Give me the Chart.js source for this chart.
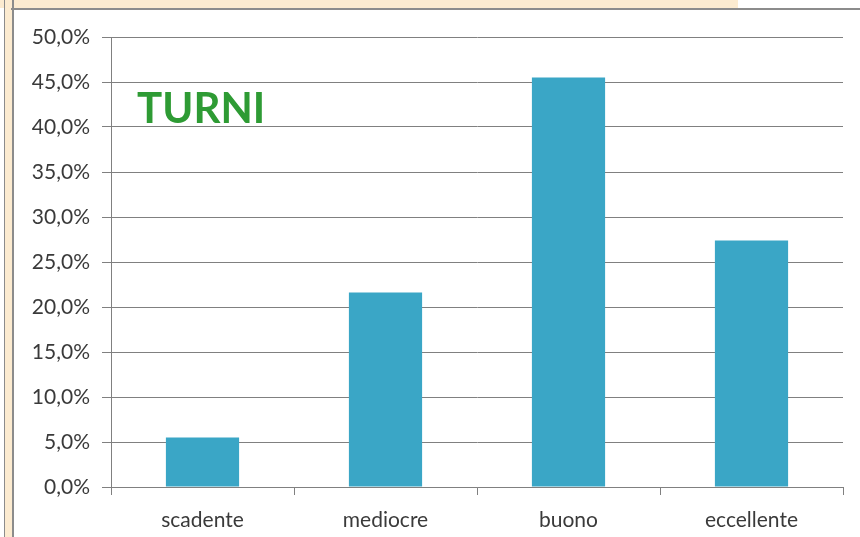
<!DOCTYPE html>
<html lang="it">
<head>
<meta charset="utf-8">
<title>Turni</title>
<script src="https://cdn.jsdelivr.net/npm/chart.js@4/dist/chart.umd.min.js"></script>
<style>
  html, body { margin: 0; padding: 0; background: #fff; }
  #wrap { position: relative; width: 860px; height: 537px; overflow: hidden; }
  #grafico { position: absolute; left: 0; top: 0; }
  .fascia { position: absolute; left: 0; top: 0; width: 738px; height: 8px; background: #fcebd0; }
  .riga-top { position: absolute; left: 11px; top: 8px; width: 849px; height: 2px; background: #8c8c8c; }
  .bordo-sx { position: absolute; left: 4px; top: 0; width: 7px; height: 537px; background: #fcebd0; border-left: 1px solid #8c8c8c; border-right: 2px solid #8c8c8c; }
</style>
</head>
<body>
<div id="wrap">
  <div class="fascia"></div>
  <div class="bordo-sx"></div>
  <div class="riga-top"></div>
  <canvas id="grafico" width="860" height="537"></canvas>
</div>
<script>
// dati
const categorie = ['scadente', 'mediocre', 'buono', 'eccellente'];
const percentuali = [5.5, 21.6, 45.5, 27.4];
const titolo = 'TURNI';

const grigio = '#808080';
const font = { family: 'Lato, "Open Sans", sans-serif', size: 21 };

// scrive il titolo verde dentro l'area del grafico
const titoloPlugin = {
    id: 'titoloTurni',
    afterDraw(chart) {
        const ctx = chart.ctx;
        ctx.save();
        ctx.font = 'bold 42px Lato, "Open Sans", sans-serif';
        ctx.fillStyle = '#2e9b34';
        ctx.textBaseline = 'alphabetic';
        ctx.fillText(titolo, 137, 123);
        ctx.restore();
    }
};

new Chart(document.getElementById('grafico').getContext('2d'), {
    type: 'bar',
    data: {
        labels: categorie,
        datasets: [{
            label: titolo,
            data: percentuali,
            backgroundColor: '#3aa6c6',
            borderWidth: 0,
            barPercentage: 0.4,
            categoryPercentage: 1
        }]
    },
    options: {
        responsive: false,
        animation: false,
        layout: { padding: { left: 0, top: 37, right: 17, bottom: 0 } },
        plugins: {
            legend: { display: false },
            tooltip: { enabled: false }
        },
        scales: {
            x: {
                afterFit(scale) { scale.height = 50; },
                grid: { drawOnChartArea: false, drawTicks: true, tickLength: 8, color: grigio },
                border: { color: grigio, width: 1 },
                ticks: { font: font, color: '#3a3a3a', padding: 13 }
            },
            y: {
                min: 0,
                max: 50,
                afterFit(scale) { scale.width = 111; },
                grid: { color: grigio, tickLength: 9, lineWidth: 1 },
                border: { color: grigio, width: 1 },
                ticks: {
                    stepSize: 5,
                    font: font,
                    color: '#3a3a3a',
                    padding: 12,
                    callback: v => v.toFixed(1).replace('.', ',') + '%'
                }
            }
        }
    },
    plugins: [titoloPlugin]
});
</script>
</body>
</html>
